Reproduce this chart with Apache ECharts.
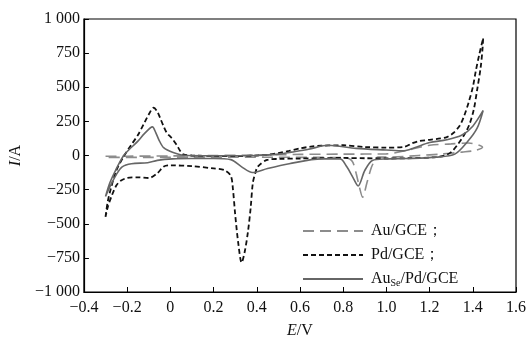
<!DOCTYPE html>
<html>
<head>
<meta charset="utf-8">
<script src="https://cdn.jsdelivr.net/npm/echarts@6/dist/echarts.min.js"></script>
<style>
  html, body { margin: 0; padding: 0; background: #fff; }
  #chart { width: 529px; height: 344px; }
</style>
</head>
<body>
<div id="chart"></div>
<script>
// 电位 E/V 和电流 I/A，按扫描顺序（正扫 -> 反扫）
var auE = [-0.30, -0.20, 0.00, 0.20, 0.40, 0.60, 0.80, 1.00, 1.10, 1.20, 1.30, 1.38, 1.445,
  1.415, 1.35, 1.25, 1.15, 1.00, 0.96, 0.945, 0.93, 0.91, 0.89, 0.875, 0.86, 0.845, 0.83, 0.80, 0.70, 0.50, 0.30, 0.10, -0.10, -0.30];
var auI = [-6, -5, -3, 0, 3, 8, 10, 12, 40, 75, 85, 92, 60,
  38, 25, 10, 0, -12, -12, -40, -90, -200, -305, -230, -130, -50, -25, -15, -14, -13, -12, -12, -14, -14];

var pdE = [-0.30, -0.29, -0.275, -0.25, -0.215, -0.18, -0.15, -0.12, -0.10, -0.077, -0.06, -0.046, -0.03, -0.016, 0.005, 0.028, 0.045, 0.06, 0.10, 0.20, 0.30, 0.40, 0.45, 0.50, 0.55, 0.60, 0.65, 0.70, 0.80, 0.90, 1.00, 1.08, 1.12, 1.15, 1.20, 1.25, 1.28, 1.31, 1.34, 1.36, 1.38, 1.40, 1.414, 1.43, 1.448,
  1.445, 1.436, 1.42, 1.405, 1.385, 1.36, 1.33, 1.30, 1.27, 1.23, 1.10, 1.00, 0.90, 0.80, 0.70, 0.60, 0.50, 0.448, 0.404, 0.395, 0.382, 0.372, 0.36, 0.345, 0.33, 0.315, 0.30, 0.29, 0.28, 0.25, 0.20, 0.10, 0.00, -0.03, -0.06, -0.10, -0.15, -0.20, -0.23, -0.25, -0.27, -0.29, -0.30];
var pdI = [-450, -340, -240, -110, -5, 80, 150, 240, 300, 350, 320, 270, 210, 165, 130, 80, 35, 8, 0, -3, -5, 0, 5, 18, 34, 52, 65, 72, 75, 62, 58, 62, 90, 105, 115, 125, 135, 165, 220, 290, 385, 500, 620, 740, 860,
  780, 640, 480, 340, 230, 150, 80, 25, 0, -12, -20, -22, -20, -18, -20, -22, -25, -32, -82, -120, -200, -380, -550, -700, -785, -650, -430, -250, -150, -107, -95, -78, -72, -80, -130, -165, -160, -165, -185, -220, -290, -380, -450];

var ausePdE = [-0.30, -0.28, -0.254, -0.216, -0.18, -0.15, -0.12, -0.083, -0.068, -0.053, -0.031, 0.013, 0.072, 0.20, 0.30, 0.40, 0.50, 0.56, 0.64, 0.73, 0.86, 1.00, 1.08, 1.13, 1.20, 1.28, 1.35, 1.40, 1.448,
  1.42, 1.377, 1.317, 1.23, 1.10, 1.00, 0.935, 0.90, 0.869, 0.845, 0.817, 0.786, 0.70, 0.55, 0.45, 0.38, 0.33, 0.28, 0.20, 0.10, 0.01, -0.06, -0.105, -0.18, -0.223, -0.25, -0.28, -0.30];
var ausePdI = [-300, -200, -110, 0, 60, 105, 160, 210, 170, 115, 57, 22, 0, -2, -2, 0, 10, 25, 46, 75, 52, 40, 34, 57, 95, 115, 150, 215, 330,
  200, 104, 10, -12, -22, -25, -36, -110, -223, -160, -83, -25, -25, -60, -95, -125, -83, -30, -22, -22, -25, -36, -53, -60, -83, -140, -230, -300];

var xTicks = [-0.4, -0.2, 0, 0.2, 0.4, 0.6, 0.8, 1.0, 1.2, 1.4, 1.6];
var yTicks = [-1000, -750, -500, -250, 0, 250, 500, 750, 1000];

function zip(xs, ys) {
    return xs.map(function (x, i) { return [x, ys[i]]; });
}

function fmtY(v) {
    var s = String(Math.abs(v));
    if (s.length > 3) {
        s = s.slice(0, s.length - 3) + ' ' + s.slice(s.length - 3);
    }
    return (v < 0 ? '\u2212' : '') + s;
}

function fmtX(v) {
    if (Math.abs(v) < 1e-9) return '0';
    return (v < 0 ? '\u2212' : '') + Math.abs(v).toFixed(1);
}

var serif = '"Liberation Serif", "Times New Roman", serif';

var chart = echarts.init(document.getElementById('chart'));
var option = {
    animation: false,
    grid: {
        left: 65,
        right: 12,
        top: 19,
        bottom: 40,
        show: true,
        borderColor: '#000',
        borderWidth: 1.2
    },
    legend: {
        orient: 'vertical',
        left: 297,
        top: 218,
        itemWidth: 60,
        itemHeight: 14,
        itemGap: 8,
        data: ['Au/GCE；', 'Pd/GCE；', 'AuSe/Pd/GCE'],
        itemStyle: { opacity: 0 },
        formatter: function (name) {
            return name === 'AuSe/Pd/GCE' ? 'Au{sub|Se}/Pd/GCE' : name;
        },
        textStyle: {
            fontFamily: serif,
            fontSize: 16,
            color: '#111',
            padding: [0, 0, 0, 3],
            rich: {
                sub: {
                    fontFamily: serif,
                    fontSize: 10,
                    color: '#111',
                    padding: [8, 0, 0, 0]
                }
            }
        }
    },
    xAxis: {
        type: 'value',
        min: -0.4,
        max: 1.6,
        interval: 0.2,
        name: '{i|E}/V',
        nameLocation: 'middle',
        nameGap: 31,
        nameTextStyle: {
            fontFamily: serif,
            fontSize: 16,
            color: '#111',
            rich: {
                i: { fontFamily: serif, fontSize: 16, fontStyle: 'italic', color: '#111' }
            }
        },
        axisLine: { onZero: false, lineStyle: { color: '#000', width: 1.2 } },
        axisTick: { inside: true, length: 5, lineStyle: { color: '#000' } },
        axisLabel: {
            fontFamily: serif,
            fontSize: 16,
            color: '#111',
            margin: 8,
            formatter: fmtX
        },
        splitLine: { show: false }
    },
    yAxis: {
        type: 'value',
        min: -1000,
        max: 1000,
        interval: 250,
        name: '{i|I}/A',
        nameLocation: 'middle',
        nameGap: 37,
        nameTextStyle: {
            fontFamily: serif,
            fontSize: 16,
            color: '#111',
            rich: {
                i: { fontFamily: serif, fontSize: 16, fontStyle: 'italic', color: '#111' }
            }
        },
        axisLine: { onZero: false, lineStyle: { color: '#000', width: 1.2 } },
        axisTick: { inside: true, length: 5, lineStyle: { color: '#000' } },
        axisLabel: {
            fontFamily: serif,
            fontSize: 16,
            color: '#111',
            margin: 4,
            formatter: fmtY
        },
        splitLine: { show: false }
    },
    series: [
        {
            name: 'Au/GCE；',
            type: 'line',
            data: zip(auE, auI),
            symbol: 'none',
            smooth: 0.3,
            lineStyle: { color: '#8c8c8c', width: 1.6, type: [11, 6] },
            itemStyle: { color: '#8c8c8c' },
            z: 2
        },
        {
            name: 'Pd/GCE；',
            type: 'line',
            data: zip(pdE, pdI),
            symbol: 'none',
            smooth: 0.3,
            lineStyle: { color: '#111', width: 1.8, type: [5, 3] },
            itemStyle: { color: '#111' },
            z: 3
        },
        {
            name: 'AuSe/Pd/GCE',
            type: 'line',
            data: zip(ausePdE, ausePdI),
            symbol: 'none',
            smooth: 0.3,
            lineStyle: { color: '#666', width: 1.6 },
            itemStyle: { color: '#666' },
            z: 4
        }
    ]
};
chart.setOption(option);
</script>
</body>
</html>
